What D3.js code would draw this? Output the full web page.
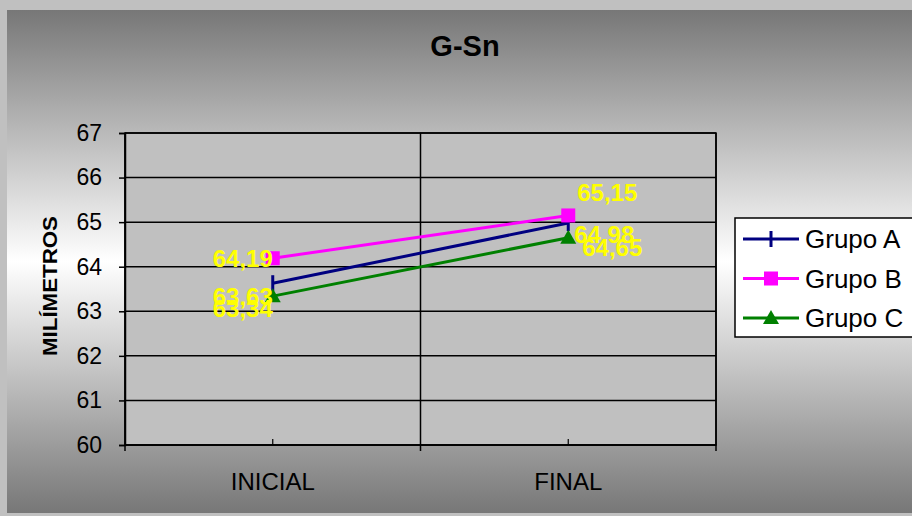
<!DOCTYPE html>
<html>
<head>
<meta charset="utf-8">
<script src="https://cdn.jsdelivr.net/npm/d3@7"></script>
<style>
  html, body { margin: 0; padding: 0; background: #c0c0c0; }
  svg { display: block; }
  text { font-family: Arial, "Liberation Sans", sans-serif; }
</style>
</head>
<body>
<svg id="chart" width="912" height="516"></svg>
<script>
// Measurements: category labels, series values, tick labels
const categories = ["INICIAL", "FINAL"];
const seriesNames = ["Grupo A", "Grupo B", "Grupo C"];
const grupoA = [63.63, 64.98];
const grupoB = [64.19, 65.15];
const grupoC = [63.34, 64.65];
const yTicks = [60, 61, 62, 63, 64, 65, 66, 67];
const chartTitle = "G-Sn";
const yTitle = "MILÍMETROS";

const series = [
  { name: seriesNames[0], values: grupoA, color: "#000080", marker: "plus" },
  { name: seriesNames[1], values: grupoB, color: "#ff00ff", marker: "square" },
  { name: seriesNames[2], values: grupoC, color: "#008000", marker: "triangle" }
];

// Value-label placement per series and category: [dx, dy, anchor]
const labelPlacement = [
  [[0, 13, "end"], [6, 12, "start"]],
  [[0, 0, "end"], [9, -23, "start"]],
  [[0, 12, "end"], [14, 10, "start"]]
];

const svg = d3.select("#chart");
const W = 912, H = 516;

// Background panel with a vertical grey-white-grey gradient
const defs = svg.append("defs");
const grad = defs.append("linearGradient").attr("id", "bg").attr("x1", 0).attr("y1", 0).attr("x2", 0).attr("y2", 1);
grad.append("stop").attr("offset", "0%").attr("stop-color", "#777777");
grad.append("stop").attr("offset", "50%").attr("stop-color", "#ffffff");
grad.append("stop").attr("offset", "100%").attr("stop-color", "#777777");

svg.append("rect").attr("x", 0).attr("y", 0).attr("width", W).attr("height", H).attr("fill", "#c0c0c0");
svg.append("rect").attr("x", 7).attr("y", 10).attr("width", W - 7).attr("height", 503).attr("fill", "url(#bg)");

const plot = { left: 125, top: 133, right: 716, bottom: 445 };

const x = d3.scaleBand().domain(categories).range([plot.left, plot.right]).padding(0);
const y = d3.scaleLinear().domain([60, 67]).range([plot.bottom, plot.top]);

// Plot area
svg.append("rect")
  .attr("x", plot.left).attr("y", plot.top)
  .attr("width", plot.right - plot.left).attr("height", plot.bottom - plot.top)
  .attr("fill", "#c0c0c0");

// Horizontal gridlines
svg.append("g").selectAll("line").data(yTicks).join("line")
  .attr("x1", plot.left).attr("x2", plot.right)
  .attr("y1", d => y(d)).attr("y2", d => y(d))
  .attr("stroke", "#000").attr("stroke-width", 1.5);

// Vertical category separators
const bounds = categories.map(c => x(c)).concat([plot.right]);
svg.append("g").selectAll("line").data(bounds).join("line")
  .attr("x1", d => d).attr("x2", d => d)
  .attr("y1", plot.top).attr("y2", plot.bottom + 6)
  .attr("stroke", "#000").attr("stroke-width", 1.5);

// Plot border
svg.append("rect")
  .attr("x", plot.left).attr("y", plot.top)
  .attr("width", plot.right - plot.left).attr("height", plot.bottom - plot.top)
  .attr("fill", "none").attr("stroke", "#000").attr("stroke-width", 1.5);

// Y axis
const yAxis = d3.axisLeft(y).tickValues(yTicks).tickSize(6).tickPadding(17).tickFormat(d3.format("d"));
const gy = svg.append("g").attr("transform", `translate(${plot.left},0)`).call(yAxis);
gy.select(".domain").attr("stroke", "#000").attr("stroke-width", 1.5);
gy.selectAll(".tick line").attr("stroke", "#000").attr("stroke-width", 1.5);
gy.selectAll(".tick text").attr("font-size", 23).attr("fill", "#000")
  .attr("font-family", "Arial, 'Liberation Sans', sans-serif");

// X axis: labels at category centers, small marks at centers
const gx = svg.append("g").attr("transform", `translate(0,${plot.bottom})`);
gx.append("line").attr("x1", plot.left).attr("x2", plot.right).attr("y1", 0).attr("y2", 0)
  .attr("stroke", "#000").attr("stroke-width", 1.5);
gx.selectAll("line.mid").data(categories).join("line").attr("class", "mid")
  .attr("x1", d => x(d) + x.bandwidth() / 2).attr("x2", d => x(d) + x.bandwidth() / 2)
  .attr("y1", 0).attr("y2", -6).attr("stroke", "#000").attr("stroke-width", 1.2);
gx.selectAll("text").data(categories).join("text")
  .attr("x", d => x(d) + x.bandwidth() / 2).attr("y", 45)
  .attr("text-anchor", "middle").attr("font-size", 24).attr("fill", "#000")
  .text(d => d);

// Title and axis title
svg.append("text").attr("x", 465).attr("y", 56).attr("text-anchor", "middle")
  .attr("font-size", 29).attr("font-weight", "bold").attr("fill", "#000").text(chartTitle);
svg.append("text").attr("transform", "translate(57,286) rotate(-90)")
  .attr("text-anchor", "middle").attr("font-size", 20).attr("font-weight", "bold")
  .attr("textLength", 140).attr("lengthAdjust", "spacingAndGlyphs")
  .attr("fill", "#000").text(yTitle);

const cx = c => x(c) + x.bandwidth() / 2;

// Marker drawing
function drawMarker(g, type, color) {
  if (type === "plus") {
    g.append("line").attr("x1", 0).attr("x2", 0).attr("y1", -8).attr("y2", 8)
      .attr("stroke", color).attr("stroke-width", 3);
  } else if (type === "square") {
    g.append("rect").attr("x", -7).attr("y", -7).attr("width", 14).attr("height", 14).attr("fill", color);
  } else {
    g.append("path").attr("d", "M0,-8 L8,6 L-8,6 Z").attr("fill", color);
  }
}

const line = d3.line().x((d, i) => cx(categories[i])).y(d => y(d));

series.forEach(s => {
  svg.append("path").datum(s.values).attr("d", line)
    .attr("fill", "none").attr("stroke", s.color).attr("stroke-width", 3);
});
series.forEach(s => {
  s.values.forEach((v, i) => {
    const g = svg.append("g").attr("transform", `translate(${cx(categories[i])},${y(v)})`);
    drawMarker(g, s.marker, s.color);
  });
});

// Value labels (decimal comma)
const fmt = v => d3.format(".2f")(v).replace(".", ",");
series.forEach((s, si) => {
  s.values.forEach((v, i) => {
    const p = labelPlacement[si][i];
    svg.append("text")
      .attr("x", cx(categories[i]) + p[0]).attr("y", y(v) + p[1])
      .attr("dy", "0.35em").attr("text-anchor", p[2])
      .attr("font-size", 24).attr("font-weight", "bold").attr("fill", "#ffff00")
      .text(fmt(v));
  });
});

// Legend
const lg = svg.append("g");
lg.append("rect").attr("x", 735).attr("y", 218).attr("width", 180).attr("height", 119)
  .attr("fill", "#fff").attr("stroke", "#000").attr("stroke-width", 1.5);
series.forEach((s, i) => {
  const ly = 239 + i * 39.5;
  lg.append("line").attr("x1", 743).attr("x2", 799).attr("y1", ly).attr("y2", ly)
    .attr("stroke", s.color).attr("stroke-width", 3);
  const g = lg.append("g").attr("transform", `translate(771,${ly})`);
  drawMarker(g, s.marker, s.color);
  lg.append("text").attr("x", 805).attr("y", ly).attr("dy", "0.35em")
    .attr("font-size", 26).attr("fill", "#000").text(s.name);
});
</script>
</body>
</html>
